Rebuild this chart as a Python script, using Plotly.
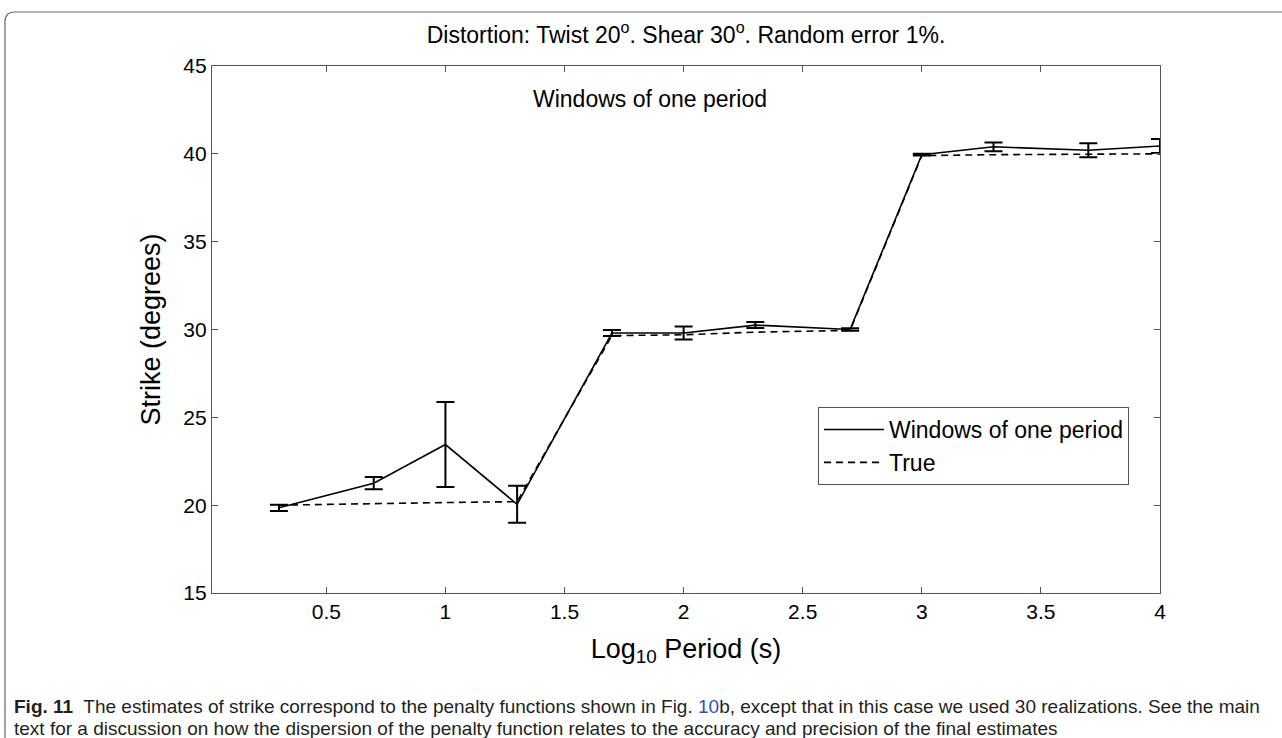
import plotly.graph_objects as go

# Data
log_period = [0.301, 0.699, 1.0, 1.301, 1.699, 2.0, 2.301, 2.699, 3.0, 3.301, 3.699, 4.0]
strike_est = [19.85, 21.25, 23.45, 20.05, 29.8, 29.8, 30.25, 30.0, 39.95, 40.4, 40.2, 40.45]
strike_err = [0.18, 0.35, 2.42, 1.05, 0.17, 0.37, 0.17, 0.07, 0.05, 0.25, 0.4, 0.4]
strike_true = [20.0, 20.1, 20.15, 20.2, 29.65, 29.7, 29.85, 29.95, 39.9, 39.95, 40.0, 40.0]

x_ticks = [0.5, 1, 1.5, 2, 2.5, 3, 3.5, 4]
y_ticks = [15, 20, 25, 30, 35, 40, 45]

W, H = 1282, 738
L, R, T, B = 212, 122, 66, 145
PW, PH = W - L - R, H - T - B

def px(xp):
    return (xp - L) / PW

def py(yp):
    return (H - B - yp) / PH

font = "Liberation Sans, Arial, sans-serif"
axis_col = "#555555"

fig = go.Figure()
fig.add_trace(go.Scatter(
    x=log_period, y=strike_est, mode="lines", name="Windows of one period",
    line=dict(color="black", width=1.6),
    error_y=dict(type="data", array=strike_err, visible=True, color="black",
                 thickness=2, width=9),
))
fig.add_trace(go.Scatter(
    x=log_period, y=strike_true, mode="lines", name="True",
    line=dict(color="black", width=1.6, dash="7px,5px"),
))

fig.update_layout(
    width=W, height=H,
    margin=dict(l=L, r=R, t=T, b=B),
    paper_bgcolor="white", plot_bgcolor="white",
    font=dict(family=font, color="black"),
    title=dict(text="Distortion: Twist 20<sup>o</sup>. Shear 30<sup>o</sup>. Random error 1%.",
               x=686 / W, xref="container", xanchor="center",
               y=1 - 35 / H, yref="container", yanchor="middle",
               font=dict(size=23, family=font)),
    showlegend=True,
    legend=dict(x=px(818), y=py(407), xanchor="left", yanchor="top",
                bordercolor=axis_col, borderwidth=1, bgcolor="white",
                font=dict(size=23, family=font), tracegroupgap=0,
                itemwidth=60),
)

fig.update_xaxes(
    range=[0.02, 4], tickvals=x_ticks, ticktext=[str(v) for v in x_ticks],
    ticks="inside", ticklen=6, tickcolor=axis_col, tickwidth=1,
    showline=True, linecolor=axis_col, linewidth=1.2, mirror="ticks",
    showgrid=False, zeroline=False,
    tickfont=dict(size=21, family=font),
    title=dict(text="Log<sub>10</sub> Period (s)", font=dict(size=27, family=font), standoff=16),
)
fig.update_yaxes(
    range=[15, 45], tickvals=y_ticks,
    ticks="inside", ticklen=6, tickcolor=axis_col, tickwidth=1,
    showline=True, linecolor=axis_col, linewidth=1.2, mirror="ticks",
    showgrid=False, zeroline=False,
    tickfont=dict(size=21, family=font),
    title=dict(text="Strike (degrees)", font=dict(size=27, family=font), standoff=14),
)

fig.add_annotation(text="Windows of one period", x=1.86, y=43.1, xref="x", yref="y",
                   showarrow=False, font=dict(size=23, family=font))

# frame around figure
fig.add_shape(type="path", xref="paper", yref="paper",
              path=f"M {px(5)} {py(760)} L {px(5)} {py(22)} Q {px(5)} {py(12)} {px(15)} {py(12)} L {px(1300)} {py(12)}",
              line=dict(color="#666666", width=1.2), layer="below")

cap_font = "Liberation Sans, Arial, sans-serif"
fig.add_annotation(
    text="<b>Fig. 11</b>  The estimates of strike correspond to the penalty functions shown in Fig. "
         "<span style='color:#2a52be'>10</span>b, except that in this case we used 30 realizations. "
         "See the main",
    x=px(12), y=py(706), xref="paper", yref="paper", xanchor="left", yanchor="middle",
    showarrow=False, align="left", font=dict(size=19, family=cap_font, color="#231f20"))
fig.add_annotation(
    text="text for a discussion on how the dispersion of the penalty function relates to the accuracy "
         "and precision of the final estimates",
    x=px(12), y=py(728), xref="paper", yref="paper", xanchor="left", yanchor="middle",
    showarrow=False, align="left", font=dict(size=19, family=cap_font, color="#231f20"))

fig.write_html("out.html")
